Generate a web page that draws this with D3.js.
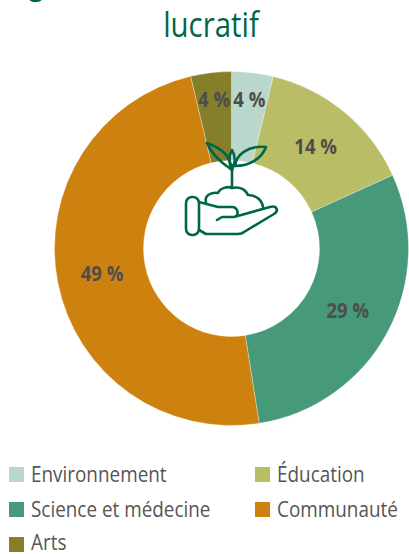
<!DOCTYPE html>
<html>
<head>
<meta charset="utf-8">
<script src="https://cdnjs.cloudflare.com/ajax/libs/d3/7.8.5/d3.min.js"></script>
<style>
body { margin: 0; background: #fff; overflow: hidden; }
text { font-family: "Open Sans", sans-serif; }
</style>
</head>
<body>
<script>
var categories = ["Environnement", "Éducation", "Science et médecine", "Communauté", "Arts"];
var values = [3.8, 14.4, 29.3, 48.8, 3.7];
var colors = ["#b9d7ca", "#b9bd66", "#469a79", "#cd820f", "#857e2a"];
var titleLines = ["Organismes sans but non", "lucratif"];

var w = 409, h = 554;
var cx = 231.5, cy = 248.5, outer = 177, inner = 88;
var green = "#00664a";
var grey = "#555555";

var svg = d3.select("body").append("svg")
  .attr("width", w)
  .attr("height", h)
  .style("display", "block");

// title, the first line is cut off by the top of the picture
var titleX = [168, 211];
svg.selectAll(".title")
  .data(titleLines)
  .enter()
  .append("text")
  .attr("class", "title")
  .attr("text-anchor", "middle")
  .attr("transform", (d, i) => "translate(" + titleX[i] + "," + (i * 43 - 6) + ") scale(0.84,1)")
  .attr("fill", green)
  .style("font-size", "35px")
  .text(d => d);

var pie = d3.pie().sort(null)(values);
var arc = d3.arc().innerRadius(inner).outerRadius(outer);
var labelArc = d3.arc().innerRadius(132).outerRadius(132);
var smallArc = d3.arc().innerRadius(150).outerRadius(150);  // thin slices, label clears the icon

var g = svg.append("g")
  .attr("transform", "translate(" + cx + "," + cy + ")");

g.selectAll("path")
  .data(pie)
  .enter()
  .append("path")
  .attr("d", arc)
  .attr("fill", (d, i) => colors[i])
  .attr("stroke", "#fff")
  .attr("stroke-opacity", 0.5)
  .attr("stroke-width", 0.6);

g.selectAll(".lab")
  .data(pie)
  .enter()
  .append("text")
  .attr("class", "lab")
  .attr("transform", function(d) {
    var a = d.endAngle - d.startAngle < 0.3 ? smallArc : labelArc;
    return "translate(" + a.centroid(d) + ") scale(0.88,1)";
  })
  .attr("text-anchor", "middle")
  .attr("dy", "0.35em")
  .attr("fill", "#4d4d4d")
  .style("font-size", "21px")
  .style("font-weight", "bold")
  .text(d => Math.round(d.data) + " %");

// plant in hand icon
var icon = svg.append("g")
  .attr("transform", "translate(170,70)")
  .attr("fill", "none")
  .attr("stroke", green)
  .attr("stroke-width", 2.6)
  .attr("stroke-linecap", "round")
  .attr("stroke-linejoin", "round");

icon.append("path").attr("d", "M62 117V95");
icon.append("path").attr("d", "M62 100C60 88 56 80 37 73C41 83 50 92 62 100Z");
icon.append("path").attr("d", "M65 96C66 85 78 75 96 77C92 88 80 96 65 96Z");
icon.append("path").attr("d", "M62 100C58 92 59 85 62 80C65 85 66 92 62 100");
icon.append("rect").attr("x", 16).attr("y", 127).attr("width", 13).attr("height", 38).attr("rx", 6);
icon.append("path").attr("d", "M29 132L48 137H62C68 137 70 146 64 147H52L47 150M64 147L100 137C107 135 109 141 104 144L74 162C72 164 70 164 68 164H36L29 160");
icon.append("path").attr("d", "M36 132C34 125 42 122 48 123C50 118 58 116 62 118C70 116 76 120 78 125C86 125 92 130 93 137");

// legend
var col = [9, 255];
var rowTop = [467, 502, 537];
var rowBase = [481.5, 516.5, 549.5];

var leg = svg.selectAll(".leg")
  .data(categories)
  .enter()
  .append("g")
  .attr("class", "leg");

leg.append("rect")
  .attr("x", (d, i) => col[i % 2])
  .attr("y", (d, i) => rowTop[Math.floor(i / 2)])
  .attr("width", 15)
  .attr("height", 15)
  .attr("fill", (d, i) => colors[i]);

leg.append("text")
  .attr("transform", (d, i) => "translate(" + (col[i % 2] + 22) + "," + rowBase[Math.floor(i / 2)] + ") scale(0.9,1)")
  .attr("fill", grey)
  .style("font-size", "21px")
  .text(d => d);
</script>
</body>
</html>
